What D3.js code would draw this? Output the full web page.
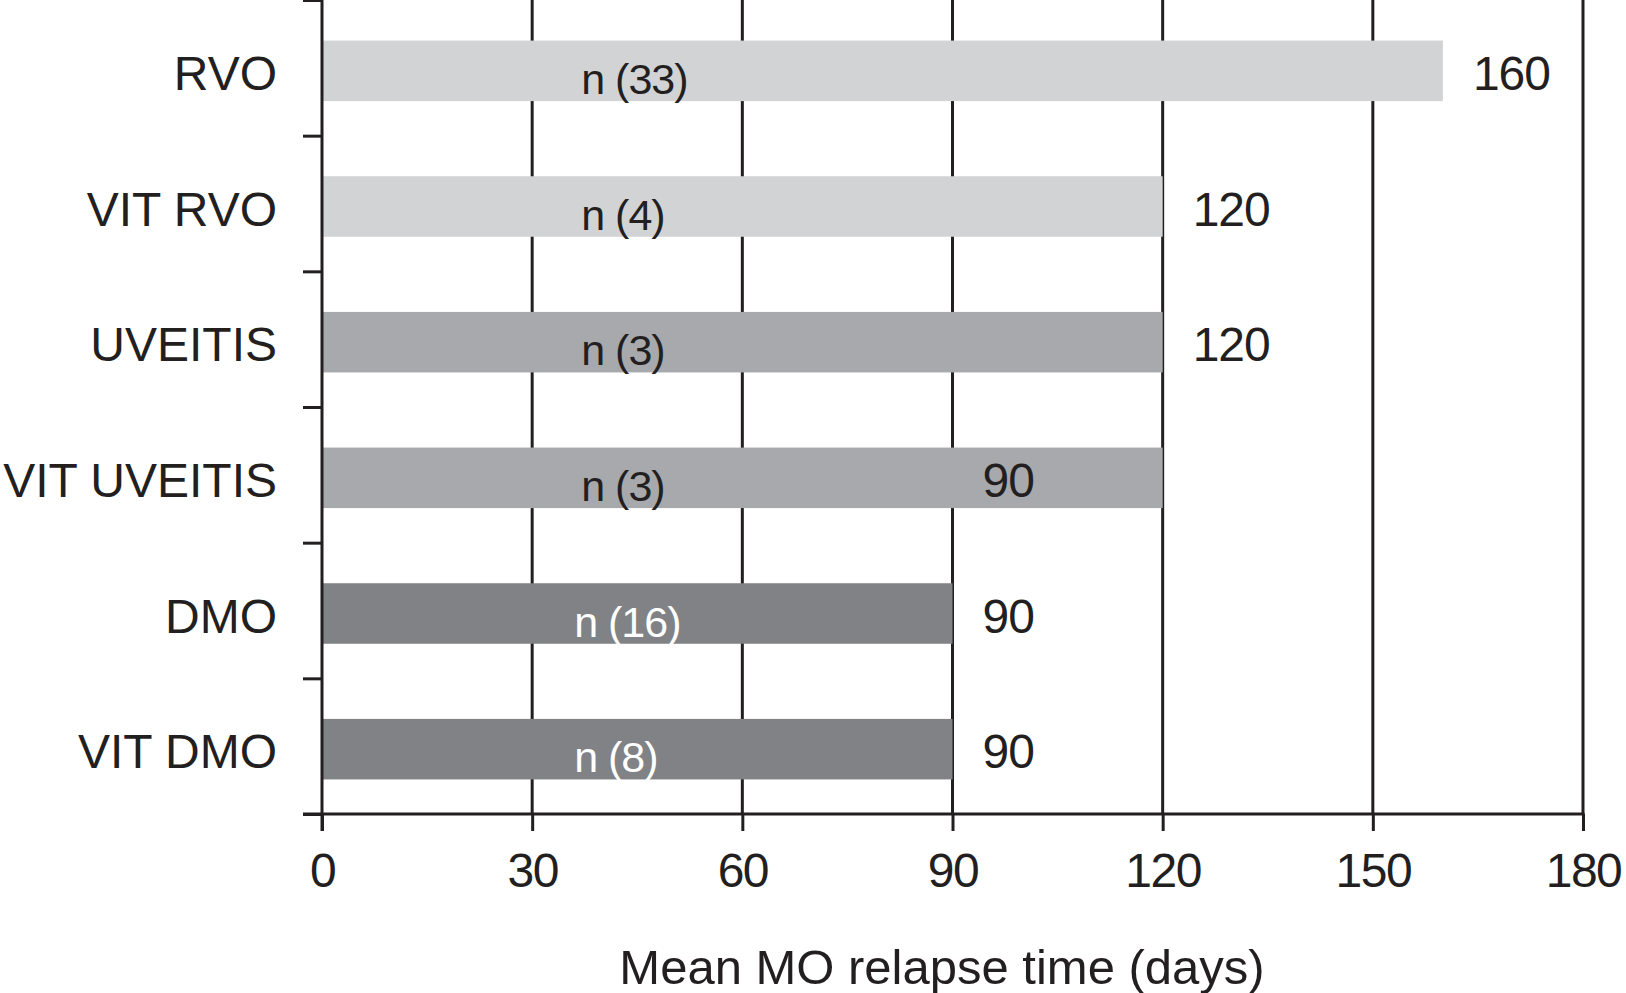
<!DOCTYPE html>
<html>
<head>
<meta charset="utf-8">
<script src="https://cdn.jsdelivr.net/npm/d3@7"></script>
<style>
  html, body { margin: 0; padding: 0; background: #fff; }
  svg { display: block; font-family: "Liberation Sans", Arial, Helvetica, sans-serif; }
</style>
</head>
<body>
<div id="chart"></div>
<script>
// chart data
var categories  = ["RVO", "VIT RVO", "UVEITIS", "VIT UVEITIS", "DMO", "VIT DMO"];
var relapseDays = [160, 120, 120, 120, 90, 90];   // bar length
var valueLabels = [160, 120, 120, 90, 90, 90];    // number printed next to bar
var nCounts     = [33, 4, 3, 3, 16, 8];
var groups      = ["RVO", "RVO", "UVEITIS", "UVEITIS", "DMO", "DMO"];
var xTicks      = [0, 30, 60, 90, 120, 150, 180];
var xTitle      = "Mean MO relapse time (days)";

var W = 1626, H = 993;
// note: "top" is reserved on window, so plot edges get their own names
var plotLeft = 322, plotRight = 1583, plotTop = 0, plotBottom = 814;
var ink = "#231f20";

var svg = d3.select("#chart").append("svg")
    .attr("width", W)
    .attr("height", H);

var x = d3.scaleLinear().domain([0, 180]).range([plotLeft, plotRight]);
var y = d3.scaleBand().domain(categories).range([plotTop, plotBottom])
    .paddingInner(0.554).paddingOuter(0.277);
var yIdx = d3.scaleLinear().domain([0, categories.length]).range([plotTop, plotBottom]);

var color = d3.scaleOrdinal()
    .domain(["RVO", "UVEITIS", "DMO"])
    .range(["#d1d3d4", "#a7a9ac", "#808285"]);
var nColor = d3.scaleOrdinal()
    .domain(["RVO", "UVEITIS", "DMO"])
    .range([ink, ink, "#ffffff"]);

var rows = categories.map(function(c, i) {
    return { cat: c, days: relapseDays[i], label: valueLabels[i], n: nCounts[i], group: groups[i] };
});

var nudge = 3; // bars sit a little below band centre in the original
function mid(d) { return y(d.cat) + nudge + y.bandwidth() / 2; }

// gridlines (behind bars)
svg.append("g").selectAll("line")
    .data(xTicks.slice(1))
    .join("line")
    .attr("x1", function(d) { return x(d); })
    .attr("x2", function(d) { return x(d); })
    .attr("y1", plotTop)
    .attr("y2", plotBottom)
    .attr("stroke", ink)
    .attr("stroke-width", 3);

// bars
svg.append("g").selectAll("rect")
    .data(rows)
    .join("rect")
    .attr("x", x(0))
    .attr("y", function(d) { return y(d.cat) + nudge; })
    .attr("width", function(d) { return x(d.days) - x(0); })
    .attr("height", y.bandwidth())
    .attr("fill", function(d) { return color(d.group); });

// x axis
var xAxis = svg.append("g")
    .attr("transform", "translate(0," + plotBottom + ")")
    .call(d3.axisBottom(x).tickValues(xTicks).tickSize(17).tickSizeOuter(0).tickPadding(22));
xAxis.select(".domain").remove();
xAxis.selectAll(".tick line").attr("stroke", ink).attr("stroke-width", 3);
xAxis.selectAll(".tick text")
    .attr("fill", ink)
    .attr("font-size", 48)
    .attr("letter-spacing", -1.5)
    .attr("font-family", "Liberation Sans, Arial, sans-serif");

// y axis: ticks on band boundaries
var yAxis = svg.append("g")
    .attr("transform", "translate(" + plotLeft + ",0)")
    .call(d3.axisLeft(yIdx).tickValues(d3.range(categories.length + 1)).tickSize(19).tickSizeOuter(0).tickFormat(""));
yAxis.select(".domain").remove();
yAxis.selectAll(".tick line").attr("stroke", ink).attr("stroke-width", 3);

// axis lines
svg.append("line")
    .attr("x1", plotLeft).attr("x2", plotLeft)
    .attr("y1", plotTop).attr("y2", plotBottom + 17)
    .attr("stroke", ink).attr("stroke-width", 3);
svg.append("line")
    .attr("x1", plotLeft - 19).attr("x2", plotRight + 1.5)
    .attr("y1", plotBottom).attr("y2", plotBottom)
    .attr("stroke", ink).attr("stroke-width", 3);

// category labels
svg.append("g").selectAll("text")
    .data(rows)
    .join("text")
    .attr("x", 277)
    .attr("y", function(d) { return mid(d) + 19; })
    .attr("text-anchor", "end")
    .attr("font-size", 48)
    .attr("fill", ink)
    .text(function(d) { return d.cat; });

// n labels inside bars
svg.append("g").selectAll("text")
    .data(rows)
    .join("text")
    .attr("x", function(d) { return d.group == "DMO" ? x(36) : x(37); })
    .attr("y", function(d) { return mid(d) + 23; })
    .attr("font-size", 43)
    .attr("letter-spacing", -1)
    .attr("fill", function(d) { return nColor(d.group); })
    .text(function(d) { return "n (" + d.n + ")"; });

// value labels
svg.append("g").selectAll("text")
    .data(rows)
    .join("text")
    .attr("x", function(d) { return x(d.label) + 30; })
    .attr("y", function(d) { return mid(d) + 19; })
    .attr("font-size", 48)
    .attr("letter-spacing", -1)
    .attr("fill", ink)
    .text(function(d) { return d.label; });

// axis title
svg.append("text")
    .attr("x", 942)
    .attr("y", 984)
    .attr("text-anchor", "middle")
    .attr("font-size", 49)
    .attr("fill", ink)
    .text(xTitle);
</script>
</body>
</html>
